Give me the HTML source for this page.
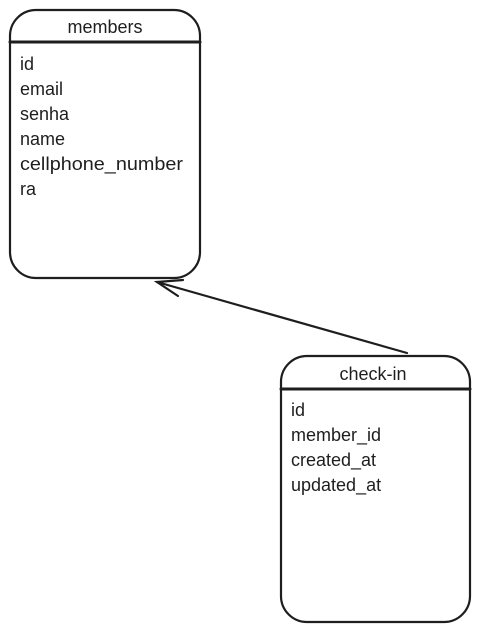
<!DOCTYPE html>
<html><head><meta charset="utf-8"><style>
html,body{margin:0;padding:0;background:#fff;}
svg{display:block;}
text{font-family:"Liberation Sans",sans-serif;fill:#1e1e1e;}
</style></head><body>
<svg width="481" height="633" viewBox="0 0 481 633" xmlns="http://www.w3.org/2000/svg">
<g fill="none" stroke="#1e1e1e" stroke-width="2.2" stroke-linecap="round">
<rect x="10" y="10" width="190" height="268" rx="26" ry="26"/>
<line x1="10" y1="42" x2="200" y2="42" stroke-width="3"/>
<rect x="281" y="356" width="189" height="266" rx="26" ry="26"/>
<line x1="281" y1="389" x2="470" y2="389" stroke-width="3"/>
<line x1="407" y1="353" x2="157" y2="282"/>
<polyline points="183,280 157,282 178,296"/>
</g>
<text x="105" y="33" font-size="18" text-anchor="middle">members</text>
<g font-size="18">
<text x="20" y="70">id</text>
<text x="20" y="95">email</text>
<text x="20" y="120">senha</text>
<text x="20" y="145">name</text>
<text x="20" y="170" textLength="163" lengthAdjust="spacingAndGlyphs">cellphone_number</text>
<text x="20" y="195">ra</text>
</g>
<text x="373" y="380" font-size="18" text-anchor="middle">check-in</text>
<g font-size="18">
<text x="291" y="416">id</text>
<text x="291" y="441">member_id</text>
<text x="291" y="466">created_at</text>
<text x="291" y="491">updated_at</text>
</g>
</svg>
</body></html>
